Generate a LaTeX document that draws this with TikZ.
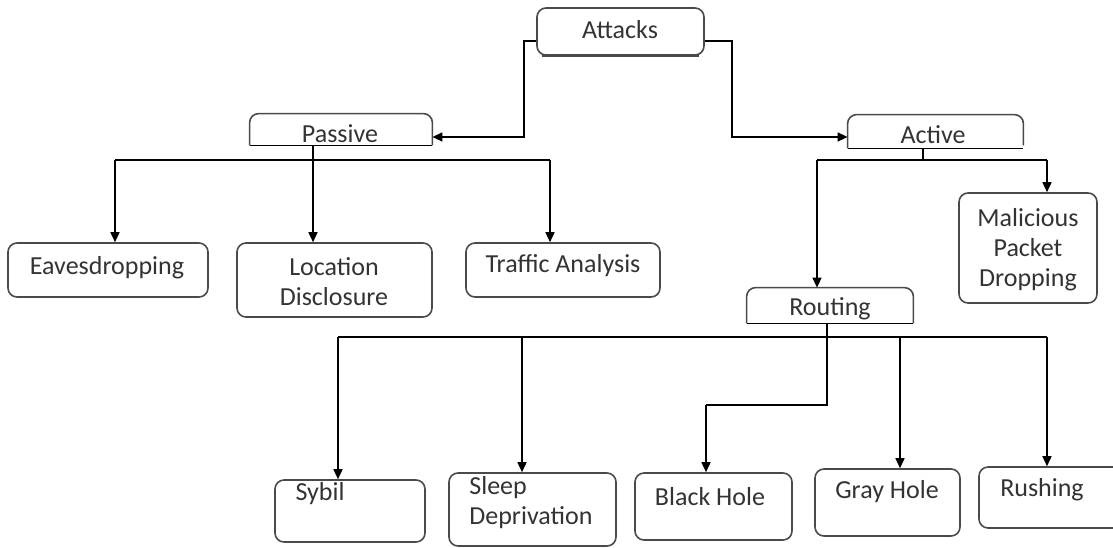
\documentclass[tikz,border=0pt]{standalone}
\usepackage{fontspec}
\setmainfont{Carlito}
\usetikzlibrary{arrows.meta,fit}
\definecolor{boxc}{HTML}{4A4A4A}
\definecolor{txtc}{HTML}{333333}
\begin{document}
\begin{tikzpicture}[x=0.5pt,y=-0.5pt,
  box/.style={draw=boxc,line width=0.8pt,rounded corners=4.5pt,inner sep=0pt},
  tbox/.style={draw=none,inner sep=0pt},
  half/.style={boxc,line width=0.8pt,rounded corners=4.5pt},
  base/.style={black,line width=0.8pt},
  lbl/.style={text=txtc,font=\fontsize{13}{15}\selectfont,inner sep=0pt,align=center},
  conn/.style={line width=0.75pt,black},
  arr/.style={conn,-{Triangle[length=5pt,width=4.5pt]}}]
\useasboundingbox (0,0) rectangle (1113,547);
% top-level boxes
\node[box,fit={(537,8)(704,55)}] (att) {};
\draw[line width=1.1pt,boxc] ([xshift=3pt]att.south west) -- ([xshift=-3pt]att.south east);
\node[lbl] (att-t) at (620,30) {Attacks};
\node[tbox,fit={(250,114)(432,145)}] (pas) {};
\draw[half] (pas.south west) -- (pas.north west) -- (pas.north east) -- (pas.south east);
\draw[base] (pas.south west) -- (pas.south east);
\node[lbl] (pas-t) at (340,134) {Passive};
\node[tbox,fit={(848,115)(1023,148)}] (act) {};
\draw[half] (act.south west) -- (act.north west) -- (act.north east) -- ([yshift=1.5pt]act.south east);
\draw[base] (act.south west) -- (act.south east);
\node[lbl] (act-t) at (933,135) {Active};
\node[tbox,fit={(747,288)(913,323)}] (rout) {};
\draw[half] (rout.south west) -- (rout.north west) -- (rout.north east) -- (rout.south east);
\draw[base] (rout.south west) -- (rout.south east);
\node[lbl] (rout-t) at (830,309) {Routing};
% leaf boxes
\node[box,fit={(8,243)(208,297)}] (eav) {};
\node[lbl] (eav-t) at (107,268) {Eavesdropping};
\node[box,fit={(237,243)(432,317)}] (loc) {};
\node[lbl] (loc-t) at (334,282) {Location\\Disclosure};
\node[box,fit={(466,243)(660,297)}] (tra) {};
\node[lbl] (tra-t) at (563,266) {Traffic Analysis};
\node[box,fit={(959,193)(1097,303)}] (mal) {};
\node[lbl] (mal-t) at (1028,250) {Malicious\\Packet\\Dropping};
\node[box,fit={(275,480)(425,542)}] (syb) {};
\node[lbl] (syb-t) at (320,494) {Sybil};
\node[box,fit={(449,473)(616,546)}] (sle) {};
\node[lbl,align=left,anchor=west] (sle-t) at (469,503) {Sleep\\Deprivation};
\node[box,fit={(635,473)(792,540)}] (blk) {};
\node[lbl] (blk-t) at (710,497) {Black Hole};
\node[box,fit={(815,469)(960,536)}] (gry) {};
\node[lbl] (gry-t) at (887,492) {Gray Hole};
\node[box,fit={(979,467)(1125,528)}] (rus) {};
\node[lbl] (rus-t) at (1042,490) {Rushing};
% coordinates
\coordinate (a1) at (524,41);
\coordinate (a2) at (732,41);
\coordinate (ay) at (0,137);
\coordinate (pd) at (313,160);
\coordinate (pb1) at (115,160);
\coordinate (pb2) at (550,160);
\coordinate (ac) at (923,160);
\coordinate (ab1) at (817,160);
\coordinate (ab2) at (1047,160);
\coordinate (rc) at (827,337);
\coordinate (rk) at (827,405);
\coordinate (rk2) at (706,405);
\coordinate (rb1) at (338,337);
\coordinate (rs) at (522,337);
\coordinate (rg) at (900,337);
\coordinate (rb2) at (1047,337);
% connectors
\draw[arr] (att.west |- a1) -- (a1) |- (pas.east |- ay);
\draw[arr] (att.east |- a2) -- (a2) |- (act.west |- ay);
\draw[arr] (pas.south -| pd) -- (loc.north -| pd);
\draw[conn] (pb1) -- (pb2);
\draw[arr] (pb1) -- (eav.north -| pb1);
\draw[arr] (pb2) -- (tra.north -| pb2);
\draw[conn] (act.south -| ac) -- (ac);
\draw[conn] (ab1) -- (ab2);
\draw[arr] (ab1) -- (rout.north -| ab1);
\draw[arr] (ab2) -- (mal.north -| ab2);
\draw[conn] (rout.south -| rc) -- (rk) -- (rk2);
\draw[arr] (rk2) -- (blk.north -| rk2);
\draw[conn] (rb1) -- (rb2);
\draw[arr] (rb1) -- (syb.north -| rb1);
\draw[arr] (rs) -- (sle.north -| rs);
\draw[arr] (rg) -- (gry.north -| rg);
\draw[arr] (rb2) -- (rus.north -| rb2);
\end{tikzpicture}
\end{document}
